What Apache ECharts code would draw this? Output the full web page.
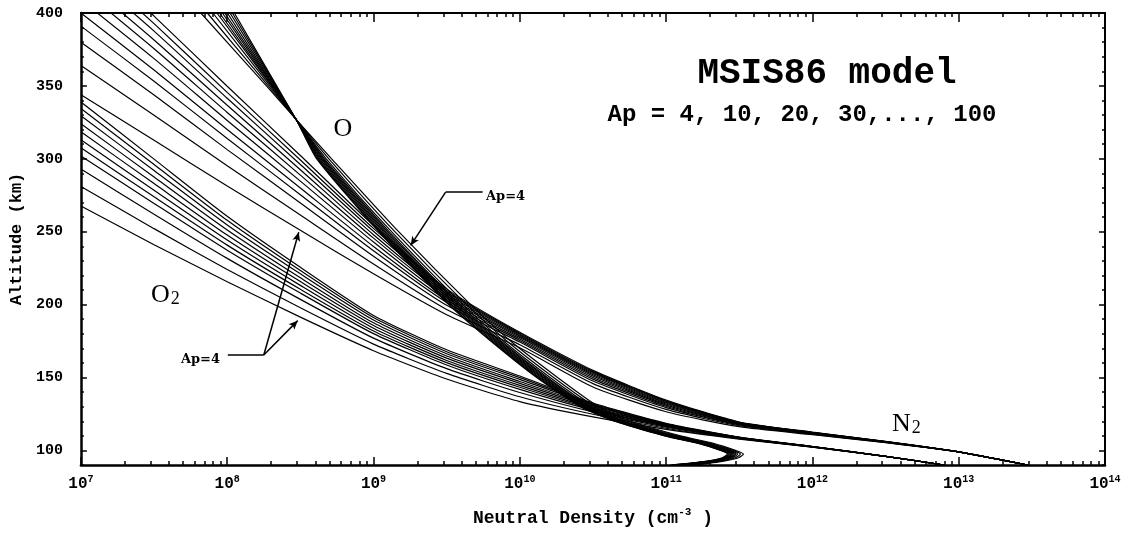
<!DOCTYPE html>
<html>
<head>
<meta charset="utf-8">
<title>MSIS86 model</title>
<script src="https://cdn.jsdelivr.net/npm/echarts@6/dist/echarts.min.js"></script>
<style>
  html, body { margin: 0; padding: 0; background: #fff; }
  .chart { width: 1138px; height: 534px; }
</style>
</head>
<body>
<div class="chart"></div>
<script>
// one curve per Ap value for each gas
var apList = [4, 10, 20, 30, 40, 50, 60, 70, 80, 90, 100];

// O: rows = altitude (km), columns = log10 density for each Ap
var oAltitude = [400, 350, 325, 300, 250, 200, 175, 150, 130, 120, 110, 105, 100, 97.5, 95, 92.5, 90];
var oLogDensity = [
  [7.820, 7.864, 7.902, 7.930, 7.948, 7.967, 7.983, 8.001, 8.019, 8.035, 8.049],
  [8.268, 8.281, 8.293, 8.302, 8.307, 8.313, 8.318, 8.323, 8.329, 8.334, 8.338],
  [8.489, 8.488, 8.486, 8.486, 8.485, 8.485, 8.484, 8.483, 8.483, 8.482, 8.482],
  [8.714, 8.695, 8.677, 8.665, 8.657, 8.649, 8.642, 8.633, 8.625, 8.618, 8.612],
  [9.172, 9.146, 9.123, 9.107, 9.096, 9.085, 9.075, 9.065, 9.054, 9.044, 9.036],
  [9.664, 9.636, 9.610, 9.592, 9.580, 9.568, 9.558, 9.546, 9.534, 9.523, 9.514],
  [9.937, 9.911, 9.888, 9.872, 9.861, 9.850, 9.840, 9.830, 9.819, 9.809, 9.801],
  [10.258, 10.231, 10.207, 10.189, 10.178, 10.166, 10.157, 10.145, 10.134, 10.124, 10.115],
  [10.538, 10.515, 10.494, 10.479, 10.469, 10.459, 10.451, 10.441, 10.431, 10.422, 10.415],
  [10.757, 10.736, 10.718, 10.705, 10.696, 10.687, 10.680, 10.671, 10.662, 10.655, 10.648],
  [11.098, 11.077, 11.059, 11.046, 11.037, 11.028, 11.021, 11.012, 11.003, 10.996, 10.989],
  [11.317, 11.297, 11.280, 11.268, 11.259, 11.251, 11.244, 11.236, 11.227, 11.220, 11.214],
  [11.474, 11.455, 11.437, 11.425, 11.417, 11.409, 11.402, 11.393, 11.385, 11.378, 11.372],
  [11.529, 11.508, 11.489, 11.476, 11.467, 11.459, 11.451, 11.442, 11.433, 11.426, 11.419],
  [11.495, 11.474, 11.455, 11.442, 11.433, 11.425, 11.417, 11.408, 11.399, 11.392, 11.385],
  [11.385, 11.363, 11.343, 11.329, 11.320, 11.311, 11.303, 11.293, 11.284, 11.276, 11.269],
  [11.201, 11.169, 11.139, 11.119, 11.105, 11.092, 11.080, 11.066, 11.052, 11.040, 11.030]
];

// O2: rows = log10 density, columns = altitude (km) for each Ap
var o2LogDensity = [7.0, 7.5, 8.0, 8.5, 9.0, 9.5, 10.0, 10.5, 11.0, 11.5, 12.0, 12.5, 12.9];
var o2Altitude = [
  [267.6, 281.0, 293.0, 302.0, 307.5, 313.0, 318.5, 324.0, 329.5, 334.5, 339.0],
  [241.1, 252.1, 262.0, 269.4, 273.9, 278.4, 283.0, 287.5, 292.0, 296.1, 299.8],
  [215.7, 224.1, 231.7, 237.3, 240.8, 244.3, 247.7, 251.2, 254.6, 257.8, 260.6],
  [191.4, 197.8, 203.6, 207.9, 210.5, 213.2, 215.8, 218.4, 221.1, 223.4, 225.6],
  [168.4, 172.9, 177.0, 180.1, 181.9, 183.8, 185.7, 187.5, 189.4, 191.1, 192.6],
  [149.0, 152.8, 156.1, 158.6, 160.2, 161.7, 163.3, 164.8, 166.3, 167.7, 169.0],
  [133.5, 136.8, 139.7, 141.9, 143.3, 144.6, 146.0, 147.3, 148.7, 149.9, 151.0],
  [123.0, 124.8, 126.4, 127.6, 128.3, 129.0, 129.8, 130.5, 131.2, 131.9, 132.5],
  [114.4, 115.2, 115.9, 116.4, 116.7, 117.1, 117.4, 117.7, 118.0, 118.3, 118.6],
  [107.8, 108.0, 108.3, 108.4, 108.5, 108.6, 108.7, 108.8, 108.9, 109.0, 109.1],
  [102.2, 102.3, 102.4, 102.4, 102.5, 102.5, 102.6, 102.6, 102.6, 102.7, 102.7],
  [95.9, 95.9, 95.9, 95.9, 95.9, 95.9, 95.9, 95.9, 95.9, 95.9, 95.9],
  [90.0, 90.0, 90.0, 90.0, 90.0, 90.0, 90.0, 90.0, 90.0, 90.0, 90.0]
];

// N2: rows = log10 density, columns = altitude (km) for each Ap
var n2LogDensity = [7.0, 7.5, 8.0, 8.5, 9.0, 9.5, 10.0, 10.5, 11.0, 11.5, 12.0, 12.5, 13.0, 13.47];
var n2Altitude = [
  [344.0, 364.0, 380.0, 391.0, 400.0, 409.0, 417.0, 424.0, 431.0, 438.0, 445.0],
  [312.7, 329.9, 343.7, 353.2, 360.9, 368.7, 375.5, 381.5, 387.6, 392.7, 397.9],
  [281.4, 295.2, 306.3, 313.9, 320.1, 326.3, 331.8, 336.7, 341.5, 345.6, 349.8],
  [251.0, 261.4, 269.7, 275.4, 280.0, 284.7, 288.8, 292.5, 296.1, 299.2, 302.3],
  [221.1, 227.8, 233.2, 236.9, 239.9, 242.9, 245.6, 247.9, 250.3, 252.3, 254.3],
  [193.0, 196.6, 199.5, 201.5, 203.1, 204.7, 206.1, 207.4, 208.6, 209.7, 210.8],
  [170.4, 172.5, 174.3, 175.4, 176.4, 177.4, 178.2, 179.0, 179.7, 180.4, 181.0],
  [143.5, 145.8, 147.6, 148.9, 150.0, 151.0, 151.9, 152.7, 153.5, 154.2, 154.9],
  [126.5, 128.1, 129.4, 130.3, 131.1, 131.8, 132.5, 133.0, 133.6, 134.1, 134.6],
  [116.3, 116.9, 117.5, 117.8, 118.1, 118.4, 118.7, 118.9, 119.1, 119.3, 119.5],
  [110.8, 111.1, 111.4, 111.6, 111.8, 111.9, 112.1, 112.2, 112.3, 112.4, 112.5],
  [105.3, 105.5, 105.6, 105.7, 105.8, 105.9, 105.9, 106.0, 106.1, 106.1, 106.2],
  [99.0, 99.0, 99.0, 99.0, 99.0, 99.0, 99.0, 99.0, 99.0, 99.0, 99.0],
  [90.0, 90.0, 90.0, 90.0, 90.0, 90.0, 90.0, 90.0, 90.0, 90.0, 90.0]
];

// ticks
var xDecades = [7, 8, 9, 10, 11, 12, 13, 14];
var xMinorSteps = [2, 3, 4, 5, 6, 7, 8, 9];
var yMajorTicks = [100, 150, 200, 250, 300, 350, 400];
var yMinorTicks = [90, 110, 120, 130, 140, 160, 170, 180, 190, 210, 220, 230, 240,
  260, 270, 280, 290, 310, 320, 330, 340, 360, 370, 380, 390];

// "Ap=4" leader lines, [log10 density, altitude]
var leaderUpper = [[9.746, 277.2], [9.493, 277.2], [9.254, 240.6]];
var leaderLower = [[8.004, 165.4], [8.250, 165.4], [8.489, 249.6], [8.482, 189.0]];

(function () {
  var myChart = echarts.init(document.querySelector(".chart"));
  var pow10 = function (v) { return Math.pow(10, v); };
  var mono = '"Liberation Mono", "DejaVu Sans Mono", monospace';

  var xMajor = xDecades.map(pow10);
  var xMinor = [];
  xDecades.slice(0, -1).forEach(function (d) {
    xMinorSteps.forEach(function (m) { xMinor.push(m * pow10(d)); });
  });

  // one axis per side for major ticks, one for minor ticks
  function xAxisOf(position, ticks, len, lineWidth) {
    return {
      type: 'log', logBase: 10, position: position, min: 1e7, max: 1e14,
      axisLine: { show: lineWidth > 0, lineStyle: { color: '#000', width: lineWidth } },
      axisTick: { inside: true, length: len, customValues: ticks, lineStyle: { color: '#000', width: 1.5 } },
      axisLabel: { show: false },
      splitLine: { show: false },
      minorTick: { show: false }
    };
  }
  function yAxisOf(position, ticks, len, lineWidth) {
    return {
      type: 'value', position: position, min: 90, max: 400,
      axisLine: { show: lineWidth > 0, lineStyle: { color: '#000', width: lineWidth } },
      axisTick: { inside: true, length: len, customValues: ticks, lineStyle: { color: '#000', width: 1.5 } },
      axisLabel: { show: false },
      splitLine: { show: false }
    };
  }

  var xBottom = xAxisOf('bottom', xMajor, 8, 2.5);
  xBottom.axisLabel = {
    show: true, customValues: xMajor, margin: 9, color: '#000',
    fontFamily: mono, fontWeight: 'bold', fontSize: 16, lineHeight: 20,
    formatter: function (v) { return '10{e|' + Math.round(Math.log10(v)) + '}'; },
    rich: { e: { fontFamily: mono, fontWeight: 'bold', fontSize: 10, lineHeight: 10, verticalAlign: 'top', color: '#000' } }
  };
  xBottom.name = 'Neutral Density (cm{s|-3} )';
  xBottom.nameLocation = 'middle';
  xBottom.nameGap = 42;
  xBottom.nameTextStyle = {
    color: '#000', fontFamily: mono, fontWeight: 'bold', fontSize: 18, lineHeight: 22,
    rich: { s: { fontFamily: mono, fontWeight: 'bold', fontSize: 11, lineHeight: 11, verticalAlign: 'top', color: '#000' } }
  };

  var yLeft = yAxisOf('left', yMajorTicks, 6, 2.5);
  yLeft.axisLabel = {
    show: true, customValues: yMajorTicks, margin: 18, color: '#000',
    fontFamily: mono, fontWeight: 'bold', fontSize: 15
  };
  yLeft.name = 'Altitude (km)';
  yLeft.nameLocation = 'middle';
  yLeft.nameGap = 55;
  yLeft.nameTextStyle = { color: '#000', fontFamily: mono, fontWeight: 'bold', fontSize: 17 };

  var series = [];
  apList.forEach(function (ap, j) {
    series.push({
      name: 'O Ap=' + ap, type: 'line',
      data: oAltitude.map(function (alt, i) { return [pow10(oLogDensity[i][j]), alt]; })
    });
    series.push({
      name: 'O2 Ap=' + ap, type: 'line',
      data: o2LogDensity.map(function (lg, i) { return [pow10(lg), o2Altitude[i][j]]; })
    });
    series.push({
      name: 'N2 Ap=' + ap, type: 'line',
      data: n2LogDensity.map(function (lg, i) { return [pow10(lg), n2Altitude[i][j]]; })
    });
  });
  series.forEach(function (s) {
    s.xAxisIndex = 0;
    s.yAxisIndex = 0;
    s.smooth = 0.2;
    s.symbol = 'none';
    s.clip = true;
    s.silent = true;
    s.lineStyle = { color: '#000', width: 1.2 };
  });

  // Ap=4 leader lines
  function pt(p, arrow) {
    var item = { coord: [pow10(p[0]), p[1]] };
    if (arrow) { item.symbol = 'arrow'; item.symbolSize = [6, 9]; }
    return item;
  }
  series[0].markLine = {
    silent: true, symbol: ['none', 'none'], label: { show: false },
    lineStyle: { color: '#000', width: 1.5, type: 'solid' },
    data: [
      [pt(leaderUpper[0]), pt(leaderUpper[1])],
      [pt(leaderUpper[1]), pt(leaderUpper[2], true)],
      [pt(leaderLower[0]), pt(leaderLower[1])],
      [pt(leaderLower[1]), pt(leaderLower[2], true)],
      [pt(leaderLower[1]), pt(leaderLower[3], true)]
    ]
  };

  function label(text, x, y, font, align, rich) {
    return {
      type: 'text', silent: true,
      style: {
        text: text, x: x, y: y, font: font, fill: '#000',
        align: align, textAlign: align, verticalAlign: 'middle', textVerticalAlign: 'middle',
        rich: rich
      }
    };
  }
  var subRich = { s: { fontFamily: '"Liberation Serif"', fontSize: 18, lineHeight: 18, verticalAlign: 'bottom', padding: [0, 0, 0, 1] },
    b: { fontFamily: '"Liberation Serif"', fontSize: 26, lineHeight: 24, verticalAlign: 'bottom' } };

  var option = {
    animation: false,
    backgroundColor: '#fff',
    grid: { left: 80, right: 33, top: 13, bottom: 64.5 },
    xAxis: [
      xBottom,
      xAxisOf('bottom', xMinor, 4, 0),
      xAxisOf('top', xMajor, 9, 2),
      xAxisOf('top', xMinor, 4, 0)
    ],
    yAxis: [
      yLeft,
      yAxisOf('left', yMinorTicks, 3, 0),
      yAxisOf('right', yMajorTicks, 6, 2),
      yAxisOf('right', yMinorTicks, 3, 0)
    ],
    graphic: [
      label('MSIS86 model', 827, 74, 'bold 36px "Liberation Mono"', 'center'),
      label('Ap = 4, 10, 20, 30,..., 100', 802, 115, 'bold 24px "Liberation Mono"', 'center'),
      label('O', 343, 129, '26px "Liberation Serif"', 'center'),
      label('{b|O}{s|2}', 151, 296, '26px "Liberation Serif"', 'left', subRich),
      label('{b|N}{s|2}', 892, 425, '26px "Liberation Serif"', 'left', subRich),
      label('Ap=4', 486, 197, 'bold 13px "DejaVu Serif"', 'left'),
      label('Ap=4', 220, 360, 'bold 13px "DejaVu Serif"', 'right')
    ],
    series: series
  };
  myChart.setOption(option);
  window.addEventListener("resize", function () {
    myChart.resize();
  });
})();
</script>
</body>
</html>
